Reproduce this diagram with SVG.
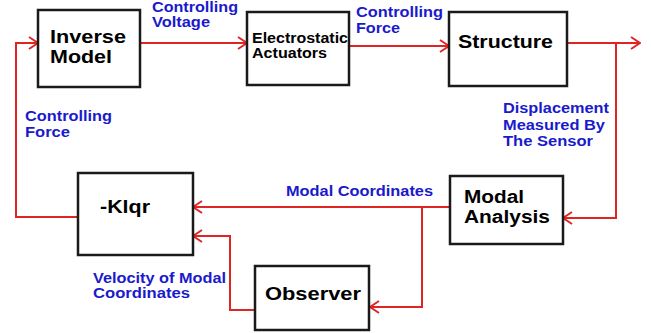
<svg xmlns="http://www.w3.org/2000/svg" width="651" height="333" viewBox="0 0 651 333">
<defs>
<style>
.box{fill:#fff;stroke:#1a1a1a;stroke-width:2.5}
.nt{font-family:"Liberation Sans",Arial,sans-serif;font-weight:bold;fill:#000}
.lb{font-family:"Liberation Sans",Arial,sans-serif;font-weight:bold;fill:#1a1acc;font-size:14px}
.ln{fill:none;stroke:#e02424;stroke-width:2;marker-end:url(#ah)}
</style>
<marker id="ah" viewBox="0 0 11 14" refX="10" refY="7" markerWidth="11" markerHeight="14" markerUnits="userSpaceOnUse" orient="auto">
<path d="M1,1 L10,7 L1,13" fill="none" stroke="#e02424" stroke-width="2"/>
</marker>
</defs>
<rect width="651" height="333" fill="#fff"/>
<g id="connectors">
<path class="ln" d="M140,43 H247"/>
<path class="ln" d="M349,46 H449"/>
<path class="ln" d="M567,43 H640"/>
<path class="ln" d="M616,43 V218 H563"/>
<path class="ln" d="M450,207 H193"/>
<path class="ln" d="M422,207 V307 H370"/>
<path class="ln" d="M255,310 H230 V236 H193"/>
<path class="ln" d="M78,217 H16 V43 H38"/>
</g>
<g id="inverse-model">
<rect class="box" x="38" y="10" width="102" height="77"/>
<text class="nt" font-size="18" x="50" y="43" textLength="76" lengthAdjust="spacingAndGlyphs">Inverse</text>
<text class="nt" font-size="18" x="50" y="63" textLength="62" lengthAdjust="spacingAndGlyphs">Model</text>
</g>
<g id="electrostatic-actuators">
<rect class="box" x="247" y="12" width="102" height="73"/>
<text class="nt" font-size="14" x="252" y="43" textLength="96" lengthAdjust="spacingAndGlyphs">Electrostatic</text>
<text class="nt" font-size="14" x="252" y="58" textLength="75" lengthAdjust="spacingAndGlyphs">Actuators</text>
</g>
<g id="structure">
<rect class="box" x="449" y="12" width="118" height="74"/>
<text class="nt" font-size="18" x="458" y="48" textLength="95" lengthAdjust="spacingAndGlyphs">Structure</text>
</g>
<g id="modal-analysis">
<rect class="box" x="450" y="176" width="113" height="68"/>
<text class="nt" font-size="18" x="464" y="203" textLength="60" lengthAdjust="spacingAndGlyphs">Modal</text>
<text class="nt" font-size="18" x="464" y="223" textLength="86" lengthAdjust="spacingAndGlyphs">Analysis</text>
</g>
<g id="klqr">
<rect class="box" x="78" y="173" width="115" height="82"/>
<text class="nt" font-size="18" x="100" y="213" textLength="50" lengthAdjust="spacingAndGlyphs">-Klqr</text>
</g>
<g id="observer">
<rect class="box" x="255" y="266" width="114" height="64"/>
<text class="nt" font-size="18" x="265" y="300" textLength="96" lengthAdjust="spacingAndGlyphs">Observer</text>
</g>
<g id="labels">
<text class="lb" x="152" y="12" textLength="86" lengthAdjust="spacingAndGlyphs">Controlling</text>
<text class="lb" x="152" y="27" textLength="58" lengthAdjust="spacingAndGlyphs">Voltage</text>
<text class="lb" x="356" y="17" textLength="87" lengthAdjust="spacingAndGlyphs">Controlling</text>
<text class="lb" x="356" y="33" textLength="44" lengthAdjust="spacingAndGlyphs">Force</text>
<text class="lb" x="25" y="121" textLength="87" lengthAdjust="spacingAndGlyphs">Controlling</text>
<text class="lb" x="25" y="137" textLength="45" lengthAdjust="spacingAndGlyphs">Force</text>
<text class="lb" x="503" y="113" textLength="106" lengthAdjust="spacingAndGlyphs">Displacement</text>
<text class="lb" x="503" y="130" textLength="102" lengthAdjust="spacingAndGlyphs">Measured By</text>
<text class="lb" x="503" y="146" textLength="90" lengthAdjust="spacingAndGlyphs">The Sensor</text>
<text class="lb" x="286" y="196" textLength="147" lengthAdjust="spacingAndGlyphs">Modal Coordinates</text>
<text class="lb" x="93" y="283" textLength="133" lengthAdjust="spacingAndGlyphs">Velocity of Modal</text>
<text class="lb" x="93" y="298" textLength="97" lengthAdjust="spacingAndGlyphs">Coordinates</text>
</g>
</svg>
